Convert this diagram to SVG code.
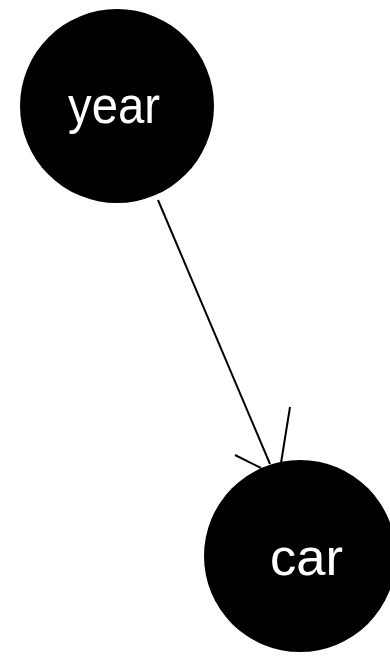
<svg xmlns="http://www.w3.org/2000/svg" width="390" height="657" viewBox="0 0 390 657">
<style>
.node{fill:#000;}
.lbl{fill:#fff;font-family:"Liberation Sans",Arial,sans-serif;font-size:52px;}
.edge{stroke:#000;stroke-width:2;fill:none;}
</style>
<rect width="390" height="657" fill="#fff"/>
<g id="connectors">
<path class="edge" d="M158,200 L270,464"/>
<path class="edge" d="M290,407 L281,463"/>
<path class="edge" d="M235,455 L261,468"/>
</g>
<g id="year">
<circle class="node" cx="117" cy="106" r="97"/>
<text class="lbl" x="68" y="123" textLength="92" lengthAdjust="spacingAndGlyphs">year</text>
</g>
<g id="car">
<circle class="node" cx="300" cy="556" r="96"/>
<text class="lbl" x="270" y="575" textLength="73" lengthAdjust="spacingAndGlyphs">car</text>
</g>
</svg>
